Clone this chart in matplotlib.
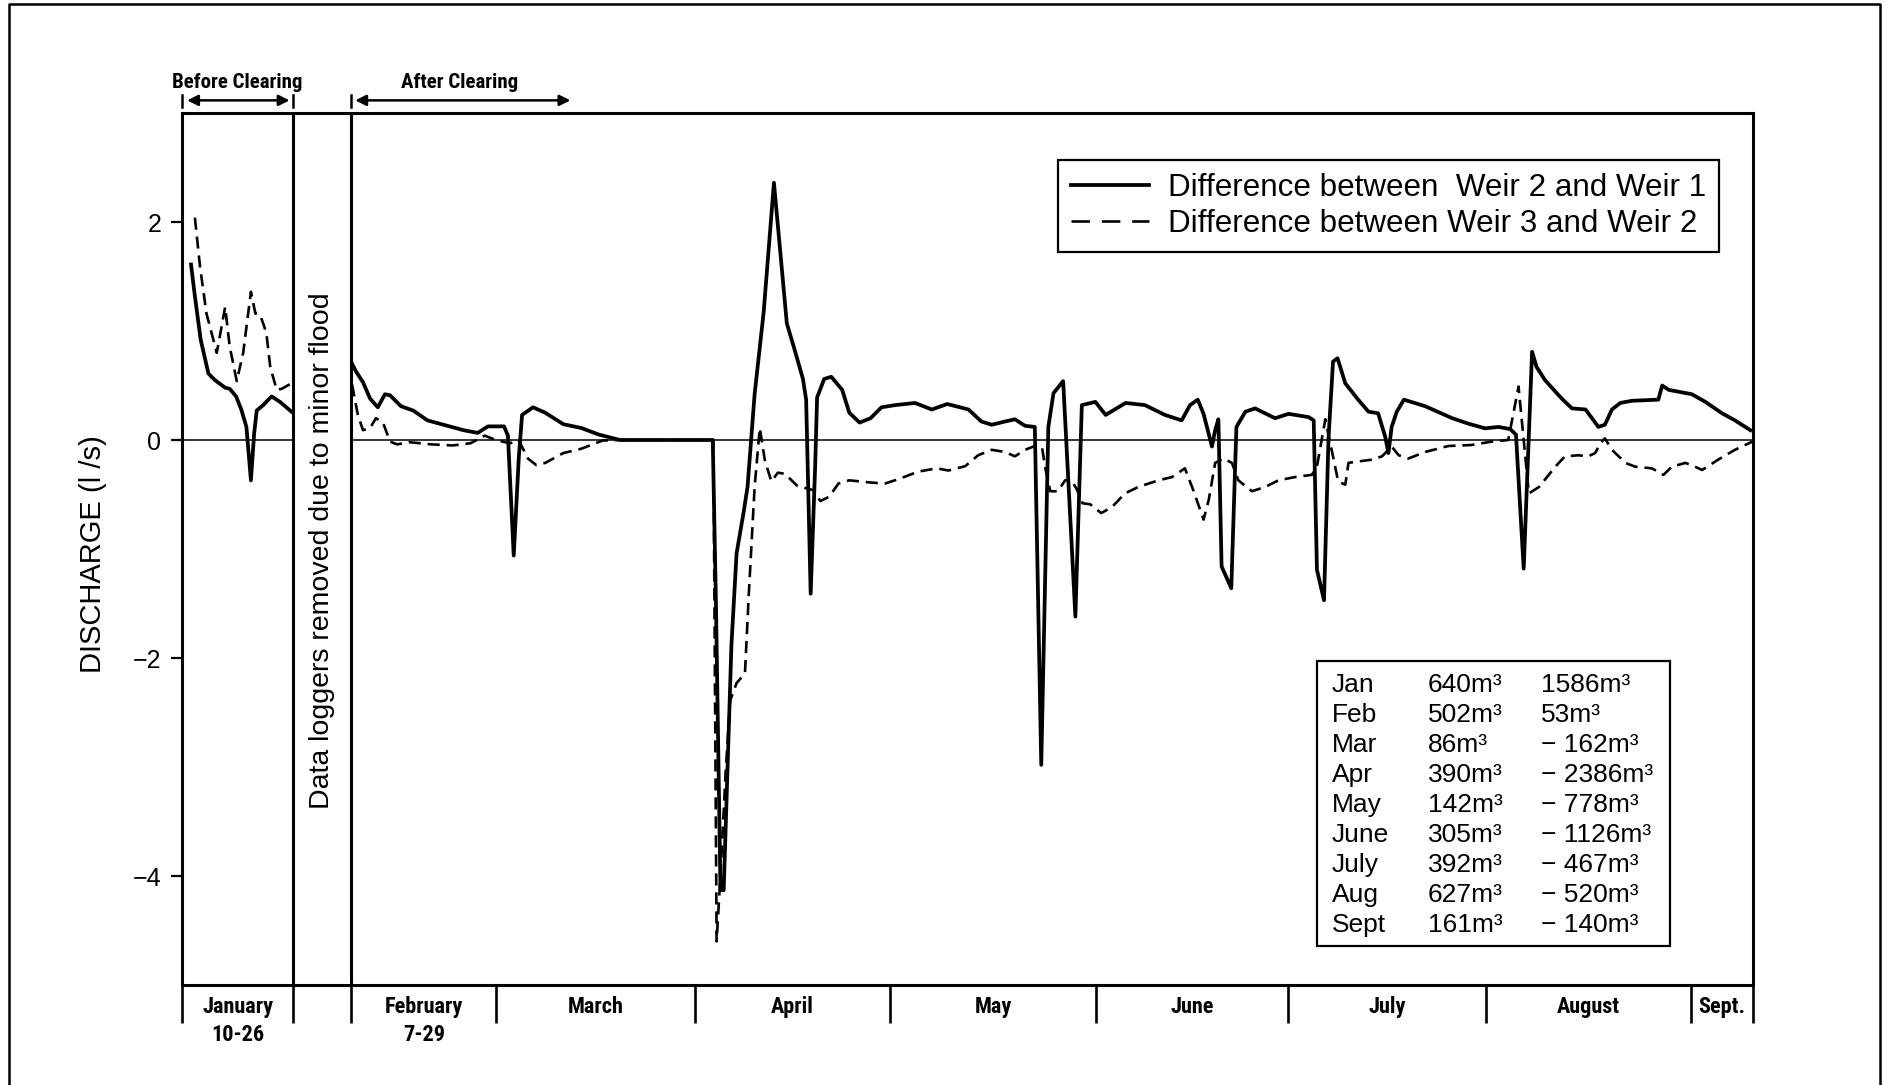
import matplotlib
matplotlib.use("Agg")
import matplotlib.pyplot as plt
import matplotlib.transforms as mtransforms
from matplotlib import font_manager
from matplotlib.lines import Line2D
from matplotlib.patches import Rectangle

# ---------------------------------------------------------------------------
# Data (x = plot day; Jan 10 -> 0, gap for the removed loggers, Feb 7 -> ~25.8)
# ---------------------------------------------------------------------------
# January 10-26, before clearing
jan_x_w21 = [0.9, 1.5, 2.4, 3.6, 4.6, 6.2, 6.9, 7.9, 8.7, 9.5, 10.2, 10.7, 11.1,
             12.1, 13.4, 14.7, 16.5]
jan_y_w21 = [1.61, 1.32, 0.92, 0.61, 0.55, 0.48, 0.47, 0.40, 0.28, 0.12, -0.37,
             0.06, 0.27, 0.32, 0.40, 0.35, 0.26]
jan_x_w32 = [1.5, 2.3, 3.3, 4.9, 6.2, 6.9, 8.0, 9.0, 10.2, 10.9, 11.6, 12.1, 12.6,
             13.2, 14.2, 15.0, 16.5]
jan_y_w32 = [2.04, 1.59, 1.16, 0.80, 1.22, 0.86, 0.54, 0.80, 1.36, 1.16, 1.15, 1.07,
             0.98, 0.67, 0.46, 0.47, 0.52]

# February 7 - September, after clearing: Weir 2 minus Weir 1
main_x_w21 = [25.9, 26.5, 27.6, 28.7, 29.9, 31.0, 31.8, 33.5, 35.4, 37.6, 40.4, 43.2,
              45.4, 47.0, 49.5, 50.1, 51.0, 51.8, 52.3, 54.0, 55.9, 58.7, 61.5, 64.2,
              67.5, 81.9, 82.4, 83.1, 83.6, 84.8, 85.6, 86.7, 87.3, 88.4, 89.8, 91.4,
              93.4, 94.7, 95.9, 96.4, 97.1, 97.8, 98.1, 99.2, 100.3, 102.0, 103.1,
              104.7, 106.4, 108.1, 110.2, 113.3, 115.9, 118.3, 121.6, 123.6, 125.2,
              127.3, 128.8, 130.4, 131.9, 132.9, 134.0, 134.8, 136.3, 138.2, 139.2,
              141.3, 142.9, 146.0, 149.0, 152.1, 154.7, 156.0, 157.2, 158.1, 159.4,
              159.9, 160.4, 160.9, 162.4, 163.2, 164.6, 166.1, 169.2, 171.3, 174.4,
              175.2, 175.7, 176.8, 177.5, 178.2, 178.9, 180.1, 182.1, 183.7, 185.2,
              186.3, 186.8, 187.3, 188.1, 189.2, 192.5, 196.7, 199.2, 201.8, 203.9,
              205.7, 206.6, 207.8, 209.1, 209.8, 211.1, 213.7, 215.3, 217.4, 219.4,
              220.4, 221.5, 222.8, 224.6, 228.7, 229.3, 230.3, 233.9, 236.0, 238.6,
              240.6, 243.0]
main_y_w21 = [0.70, 0.63, 0.53, 0.38, 0.30, 0.42, 0.41, 0.31, 0.27, 0.18, 0.135, 0.09,
              0.065, 0.125, 0.125, 0.04, -1.06, -0.15, 0.23, 0.30, 0.25, 0.145, 0.11,
              0.05, 0.0, 0.0, -1.51, -4.13, -4.13, -1.88, -1.04, -0.66, -0.43, 0.42,
              1.17, 2.36, 1.07, 0.81, 0.56, 0.37, -1.41, -0.24, 0.39, 0.56, 0.58, 0.46,
              0.25, 0.16, 0.20, 0.30, 0.32, 0.34, 0.28, 0.33, 0.28, 0.17, 0.14, 0.17,
              0.19, 0.13, 0.12, -2.98, 0.12, 0.43, 0.54, -1.62, 0.32, 0.35, 0.23, 0.34,
              0.32, 0.23, 0.18, 0.32, 0.37, 0.24, -0.06, 0.09, 0.19, -1.16, -1.36, 0.12,
              0.26, 0.29, 0.20, 0.24, 0.21, 0.18, -1.19, -1.47, 0.02, 0.72, 0.75, 0.52,
              0.37, 0.26, 0.245, 0.03, -0.12, 0.12, 0.26, 0.37, 0.31, 0.20, 0.15, 0.107,
              0.12, 0.10, 0.05, -1.18, 0.81, 0.67, 0.55, 0.38, 0.29, 0.28, 0.12, 0.14,
              0.28, 0.34, 0.36, 0.37, 0.50, 0.46, 0.42, 0.35, 0.245, 0.18, 0.09]

# February 7 - September, after clearing: Weir 3 minus Weir 2
main_x_w32 = [25.9, 26.8, 27.6, 28.7, 29.6, 30.7, 31.8, 32.9, 34.8, 38.2, 41.5, 44.3,
              46.5, 48.2, 50.4, 51.8, 53.2, 54.5, 55.9, 58.7, 61.5, 64.8, 67.5, 82.0,
              82.5, 83.1, 83.9, 84.6, 85.6, 86.9, 87.5, 88.4, 89.2, 90.0, 91.0, 92.0,
              93.1, 95.0, 97.5, 98.6, 100.0, 101.4, 103.1, 106.4, 108.6, 110.7, 113.8,
              116.7, 118.5, 121.1, 123.1, 125.2, 127.3, 128.8, 130.4, 131.9, 133.0,
              133.5, 134.3, 135.5, 136.6, 137.5, 138.4, 139.3, 140.5, 142.2, 143.8,
              145.9, 148.0, 151.1, 153.2, 155.2, 156.5, 158.1, 158.9, 159.9, 161.2,
              162.5, 163.5, 165.6, 167.7, 169.7, 172.3, 174.9, 175.7, 177.0, 179.0,
              180.1, 180.6, 181.7, 184.3, 185.8, 187.3, 188.4, 189.9, 192.5, 196.1,
              199.7, 202.8, 205.4, 207.0, 208.6, 210.2, 212.7, 214.2, 216.3, 217.8,
              218.9, 219.7, 220.4, 221.5, 223.6, 225.1, 227.7, 229.5, 230.8, 232.9,
              234.4, 235.5, 238.0, 240.6, 243.3]
main_y_w32 = [0.51, 0.23, 0.09, 0.11, 0.20, 0.16, -0.015, -0.04, -0.02, -0.04, -0.05,
              -0.03, 0.04, 0.0, -0.03, -0.005, -0.17, -0.23, -0.21, -0.12, -0.08,
              -0.005, 0.0, 0.0, -4.6, -3.99, -3.05, -2.39, -2.23, -2.14, -1.41, -0.43,
              0.11, -0.19, -0.38, -0.30, -0.31, -0.42, -0.46, -0.56, -0.52, -0.40,
              -0.37, -0.39, -0.40, -0.36, -0.29, -0.26, -0.28, -0.24, -0.14, -0.09,
              -0.11, -0.15, -0.09, -0.055, -0.06, -0.25, -0.47, -0.47, -0.37, -0.36,
              -0.45, -0.58, -0.59, -0.67, -0.62, -0.49, -0.43, -0.37, -0.34, -0.26,
              -0.46, -0.73, -0.55, -0.21, -0.17, -0.21, -0.37, -0.47, -0.43, -0.37,
              -0.34, -0.32, -0.245, 0.19, -0.38, -0.41, -0.21, -0.20, -0.18, -0.15,
              -0.06, -0.14, -0.17, -0.11, -0.055, -0.046, -0.015, 0.0, 0.49, -0.49,
              -0.43, -0.245, -0.15, -0.14, -0.15, -0.12, -0.03, 0.015, -0.09, -0.21,
              -0.245, -0.26, -0.32, -0.245, -0.21, -0.245, -0.275, -0.18, -0.09,
              -0.015]

# Month strip along the time axis
jan_end, feb_start = 16.8, 25.8
month_edges = [-0.5, jan_end, feb_start, 48.3, 79.1, 109.4, 141.4, 171.2, 201.9,
               233.8, 243.4]
month_names = ["January", None, "February", "March", "April", "May", "June", "July",
               "August", "Sept."]
month_ranges = {"January": "10-26", "February": "7-29"}

# Monthly volume table
table_months = ["Jan", "Feb", "Mar", "Apr", "May", "June", "July", "Aug", "Sept"]
vol_w21 = [640, 502, 86, 390, 142, 305, 392, 627, 161]
vol_w32 = [1586, 53, -162, -2386, -778, -1126, -467, -520, -140]

y_ticks = [-4, -2, 0, 2]
label_w21 = "Difference between  Weir 2 and Weir 1"
label_w32 = "Difference between Weir 3 and Weir 2"


def pick_font(*names):
    available = {f.name for f in font_manager.fontManager.ttflist}
    for name in names:
        if name in available:
            return name
    return "DejaVu Sans"


SANS = pick_font("Liberation Sans", "Arimo", "DejaVu Sans")
NARROW = pick_font("Liberation Sans Narrow", "Roboto Condensed", "DejaVu Sans")

W, H = 1889, 1085
fig = plt.figure(figsize=(W / 100, H / 100), dpi=100)


def fx(px):
    return px / W


def fy(py):
    return 1 - py / H


ax = fig.add_axes([fx(182), fy(985), fx(1753) - fx(182), fy(113) - fy(985)])
ax.set_xlim(month_edges[0], month_edges[-1])
ax.set_ylim(-5, 3)
blend = mtransforms.blended_transform_factory(ax.transData, ax.transAxes)

for s in ax.spines.values():
    s.set_linewidth(2.2)

# zero reference line (interrupted where the loggers were removed)
ax.plot([month_edges[0], jan_end], [0, 0], color="black", lw=1.1, zorder=1)
ax.plot([feb_start, month_edges[-1]], [0, 0], color="black", lw=1.1, zorder=1)

# series
solid_kw = dict(color="black", lw=2.7, solid_joinstyle="round", zorder=3)
dash_kw = dict(color="black", lw=1.9, dashes=(4.6, 2.6), zorder=2)
ax.plot(jan_x_w21, jan_y_w21, **solid_kw)
ax.plot(main_x_w21, main_y_w21, **solid_kw)
ax.plot(jan_x_w32, jan_y_w32, **dash_kw)
ax.plot(main_x_w32, main_y_w32, **dash_kw)

# before/after clearing separators
for xv in (jan_end, feb_start):
    ax.axvline(xv, color="black", lw=2.2, zorder=4)

# y axis
ax.set_yticks(y_ticks)
ax.set_yticklabels([f"{t}".replace("-", "\u2212") for t in y_ticks],
                   fontsize=18, fontfamily=SANS)
ax.tick_params(axis="y", direction="out", length=8, width=1.6, pad=7)
fig.text(fx(93), fy(554), "DISCHARGE (l /s)", rotation=90, ha="center", va="center",
         fontsize=21, fontfamily=SANS)

# month strip below the axis
ax.set_xticks(month_edges)
ax.tick_params(axis="x", direction="out", length=27, width=1.9, labelbottom=False)
for i, name in enumerate(month_names):
    if name is None:
        continue
    xc = 0.5 * (month_edges[i] + month_edges[i + 1])
    ax.text(xc, -0.0252, name, transform=blend, ha="center", va="center",
            fontsize=16, fontweight="bold", fontfamily=NARROW)
    if name in month_ranges:
        ax.text(xc, -0.057, month_ranges[name], transform=blend, ha="center",
                va="center", fontsize=16, fontweight="bold", fontfamily=NARROW)

# before / after clearing brackets above the axis
for xv in (month_edges[0], jan_end, feb_start):
    ax.plot([xv, xv], [1.0069, 1.0206], transform=blend, color="black", lw=1.8,
            clip_on=False)
arrow_kw = dict(arrowstyle="<|-|>", color="black", lw=1.8, mutation_scale=16,
                shrinkA=0, shrinkB=0)
ax.annotate("", xy=(16.2, 1.0145), xytext=(0.3, 1.0145), xycoords=blend,
            textcoords=blend, arrowprops=arrow_kw, annotation_clip=False)
ax.annotate("", xy=(59.8, 1.0145), xytext=(26.4, 1.0145), xycoords=blend,
            textcoords=blend, arrowprops=arrow_kw, annotation_clip=False)
ax.text(8.1, 1.035, "Before Clearing", transform=blend, ha="center", va="center",
        fontsize=15, fontweight="bold", fontfamily=NARROW)
ax.text(42.6, 1.035, "After Clearing", transform=blend, ha="center", va="center",
        fontsize=15, fontweight="bold", fontfamily=NARROW)

ax.text(0.5 * (jan_end + feb_start), -1.02, "Data loggers removed due to minor flood",
        rotation=90, ha="center", va="center", fontsize=20.5, fontfamily=SANS)

# legend
h_w21 = Line2D([], [], color="black", lw=2.7)
h_w32 = Line2D([], [], color="black", lw=1.9, dashes=(7, 4.5))
leg = ax.legend([h_w21, h_w32], [label_w21, label_w32], loc="upper left",
                bbox_to_anchor=(fx(1058), fy(160)), bbox_transform=fig.transFigure,
                frameon=True, fancybox=False, edgecolor="black", framealpha=1,
                prop=dict(family=SANS, size=22.6), handlelength=2.5,
                handletextpad=0.6, labelspacing=0.22, borderpad=0.4,
                borderaxespad=0)
leg.get_frame().set_linewidth(1.6)

# monthly volume table
fig.add_artist(Rectangle((fx(1317), fy(946)), fx(1670) - fx(1317), fy(661) - fy(946),
                         transform=fig.transFigure, fill=False, lw=1.6,
                         edgecolor="black"))


def fmt_vol(v):
    return f"{v}m\u00b3" if v >= 0 else f"\u2212 {abs(v)}m\u00b3"


for i, m in enumerate(table_months):
    yy = fy(685 + 30.0 * i)
    fig.text(fx(1332), yy, m, ha="left", va="center", fontsize=19, fontfamily=SANS)
    fig.text(fx(1428), yy, fmt_vol(vol_w21[i]), ha="left", va="center", fontsize=19,
             fontfamily=SANS)
    fig.text(fx(1541), yy, fmt_vol(vol_w32[i]), ha="left", va="center", fontsize=19,
             fontfamily=SANS)

# page frame
fig.add_artist(Line2D([fx(9), fx(9), fx(1880), fx(1880)], [0, fy(4), fy(4), 0],
                      transform=fig.transFigure, color="black", lw=1.8))

fig.savefig("out.png", dpi=100, facecolor="white")
